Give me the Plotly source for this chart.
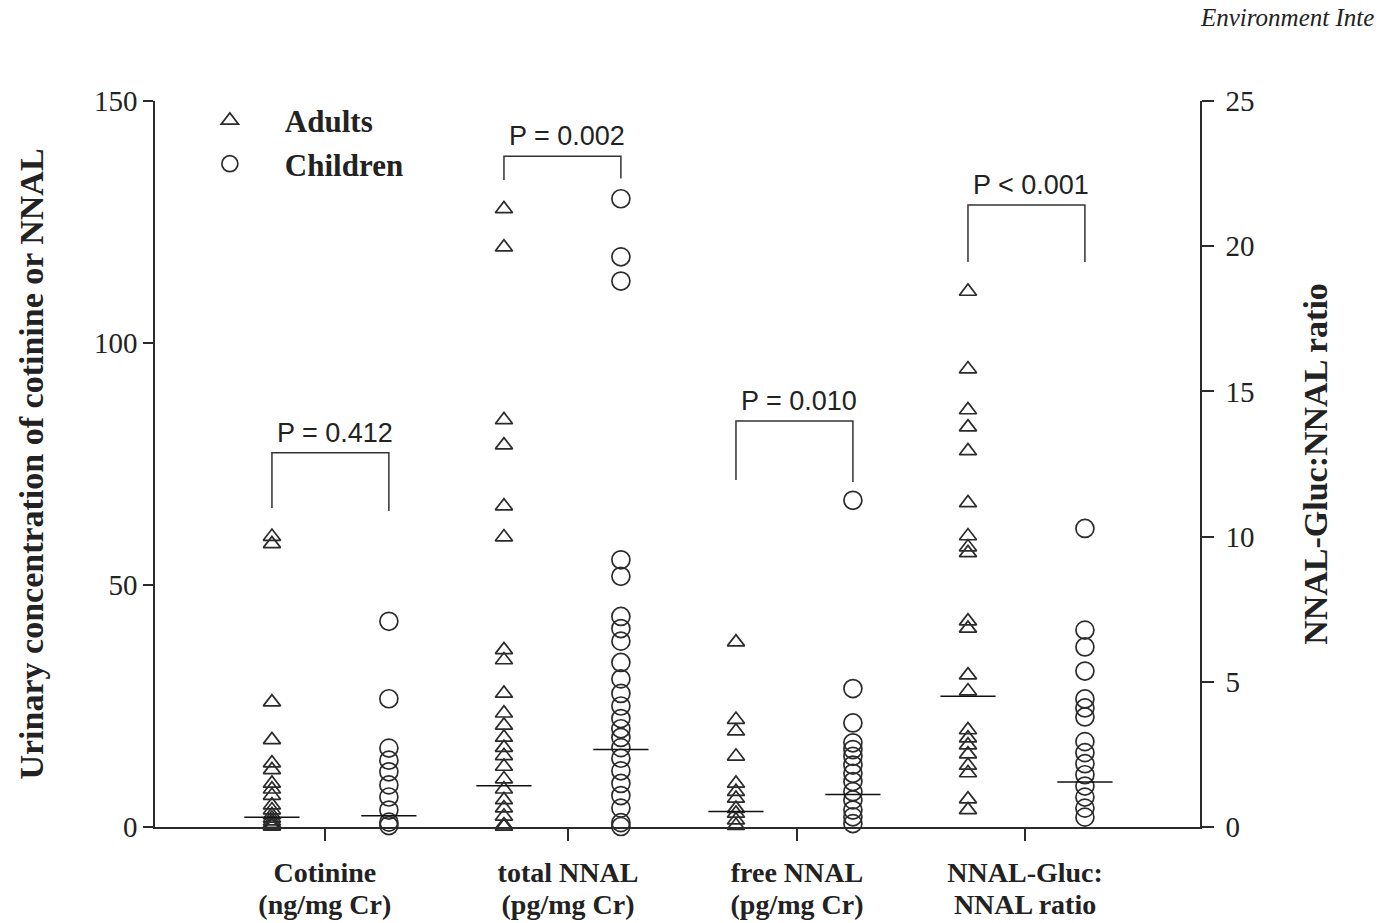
import plotly.graph_objects as go

# ---- data ----
categories_line1 = ["Cotinine", "total NNAL", "free NNAL", "NNAL-Gluc:"]
categories_line2 = ["(ng/mg Cr)", "(pg/mg Cr)", "(pg/mg Cr)", "NNAL ratio"]

cot_adults = [60, 58.5, 25.8, 18, 13.2, 11.8, 9, 7.8, 6.5, 4.5, 3.5, 2.5, 1.8, 1.2, 0.7, 0.3, 0.1]
cot_children = [42.5, 26.5, 16.3, 13.8, 11.4, 8.7, 6.2, 3.5, 1.0, 0.3]
total_adults = [127.7, 119.8, 84.1, 78.9, 66.3, 59.9, 36.6, 34.5, 27.6, 23.5, 21, 18.5, 16.4,
                14.7, 12.5, 9.9, 7.8, 5.6, 3.9, 2.2, 0.4, 0.1]
total_children = [129.8, 117.8, 112.8, 55.2, 51.8, 43.5, 41, 38.4, 34, 30.6, 27.6, 25, 22.4,
                  20.3, 18.5, 16.4, 14.2, 11.6, 9, 6.5, 3.9, 0.9, 0.1]
free_adults = [38.2, 22.2, 19.8, 14.6, 9, 7.3, 5.9, 3.8, 2.8, 1.4, 0.3]
free_children = [67.5, 28.6, 21.5, 17.4, 16, 14.6, 12.8, 11.1, 9.4, 7.3, 5.6, 3.5, 2.1, 0.7]
ratio_adults = [18.44, 15.77, 14.36, 13.77, 12.95, 11.16, 10.02, 9.64, 9.44, 7.09, 6.84, 5.23,
                4.68, 3.34, 3.06, 2.82, 2.51, 2.12, 1.86, 0.96, 0.59]
ratio_children = [10.28, 6.78, 6.2, 5.37, 4.41, 4.1, 3.79, 2.94, 2.56, 2.18, 1.8, 1.41, 1.03, 0.65, 0.34]

medians_adults = [2.0, 8.5, 3.2, 4.5]        # last one in ratio units
medians_children = [2.3, 16.0, 6.7, 1.55]

p_labels = ["P = 0.412", "P = 0.002", "P = 0.010", "P < 0.001"]
bracket_top = [77.3, 138.6, 83.9, 21.42]      # last one in ratio units
bracket_leg_adults = [65.9, 133.7, 71.7, 19.46]
bracket_leg_children = [65.3, 134.0, 71.3, 19.46]

left_ticks = [0, 50, 100, 150]
right_ticks = [0, 5, 10, 15, 20, 25]

# ---- layout constants ----
group_pos = [0, 1, 2, 3]
tick_pos = [-0.024, 1.024, 2.011, 2.994]      # category tick marks (slightly off-centre, as in the source)
OFF_A, OFF_C = -0.252, 0.252
MED_HW = 0.119
INK = "#2b2b2b"
SERIF = "Liberation Serif"
X_RANGE = [-0.756, 3.748]

adult_sets = [cot_adults, total_adults, free_adults, ratio_adults]
child_sets = [cot_children, total_children, free_children, ratio_children]

fig = go.Figure()

tri = dict(symbol="triangle-up-open", size=15, color=INK, line=dict(color=INK, width=1.7))
cir = dict(symbol="circle-open", size=18, color=INK, line=dict(color=INK, width=1.7))

for i, g in enumerate(group_pos):
    ya = "y2" if i == 3 else "y"
    fig.add_trace(go.Scatter(x=[g + OFF_A] * len(adult_sets[i]), y=adult_sets[i], mode="markers",
                             marker=tri, name="Adults", showlegend=(i == 0), legendgroup="a",
                             yaxis=ya, cliponaxis=False))
    fig.add_trace(go.Scatter(x=[g + OFF_C] * len(child_sets[i]), y=child_sets[i], mode="markers",
                             marker=cir, name="Children", showlegend=(i == 0), legendgroup="c",
                             yaxis=ya, cliponaxis=False))
    # median lines
    mx, my = [], []
    for off, med in ((OFF_A, medians_adults[i]), (OFF_C, medians_children[i])):
        mx += [g + off - MED_HW, g + off + MED_HW, None]
        my += [med, med, None]
    fig.add_trace(go.Scatter(x=mx, y=my, mode="lines", line=dict(color="#111", width=1.5),
                             showlegend=False, hoverinfo="skip", yaxis=ya, cliponaxis=False))
    # significance bracket
    fig.add_trace(go.Scatter(x=[g + OFF_A, g + OFF_A, g + OFF_C, g + OFF_C],
                             y=[bracket_leg_adults[i], bracket_top[i], bracket_top[i], bracket_leg_children[i]],
                             mode="lines", line=dict(color="#333", width=1.5),
                             showlegend=False, hoverinfo="skip", yaxis=ya, cliponaxis=False))
    fig.add_annotation(x=g + 0.02, y=bracket_top[i], yref=ya, text=p_labels[i],
                       showarrow=False, yanchor="bottom", yshift=3,
                       font=dict(family="Liberation Sans", size=27, color="#222"))

# empty trace so the second-line category axis is drawn
fig.add_trace(go.Scatter(x=[None], y=[None], xaxis="x2", showlegend=False, hoverinfo="skip"))

# plot area on screen: x 155..1200, y 101..827 (page body adds an 8px offset)
PLOT_L, PLOT_W, PLOT_T, PLOT_H = 155, 1045, 101, 726
fig.add_annotation(xref="paper", yref="paper", text="<i>Environment Inte</i>", showarrow=False,
                   x=(1376 - PLOT_L) / PLOT_W, xanchor="right", y=1 + (PLOT_T - 18) / PLOT_H,
                   yanchor="middle", font=dict(family=SERIF, size=25, color="#222"))

axis_font = dict(family=SERIF, size=28, color="#222", weight="bold")
title_font = dict(family=SERIF, size=34, color="#222", weight="bold")
num_font = dict(family=SERIF, size=29, color="#222")

fig.update_layout(
    width=1386, height=915,
    margin=dict(l=147, r=194, t=93, b=96, autoexpand=False),
    paper_bgcolor="white", plot_bgcolor="white",
    showlegend=True,
    legend=dict(x=0.019, y=1.01, xanchor="left", yanchor="top", bgcolor="rgba(0,0,0,0)",
                font=dict(family=SERIF, size=31, color="#222", weight="bold"),
                itemwidth=100, tracegroupgap=0),
    xaxis=dict(range=X_RANGE, tickvals=tick_pos, ticktext=categories_line1, automargin=False,
               showline=True, linecolor=INK, linewidth=1.5, ticks="outside", ticklen=12,
               tickcolor=INK, tickwidth=1.5, showgrid=False, zeroline=False,
               tickfont=axis_font, ticklabelstandoff=8),
    xaxis2=dict(range=X_RANGE, tickvals=tick_pos, ticktext=categories_line2, automargin=False,
                overlaying="x", side="bottom", anchor="y",
                showline=False, ticks="outside", ticklen=12, tickcolor="rgba(0,0,0,0)",
                showgrid=False, zeroline=False, tickfont=axis_font, ticklabelstandoff=40),
    yaxis=dict(range=[0, 150], tickvals=left_ticks, showline=True, linecolor=INK, linewidth=1.5,
               ticks="outside", ticklen=10, tickcolor=INK, tickwidth=1.5, showgrid=False,
               zeroline=False, tickfont=num_font, automargin=False,
               title=dict(text="Urinary concentration of cotinine or NNAL", font=title_font,
                          standoff=40)),
    yaxis2=dict(range=[0, 25], tickvals=right_ticks, overlaying="y", side="right",
                showline=True, linecolor=INK, linewidth=1.5, ticks="outside", ticklen=12,
                tickcolor=INK, tickwidth=1.5, showgrid=False, zeroline=False,
                tickfont=num_font, ticklabelstandoff=6, automargin=False,
                title=dict(text="NNAL-Gluc:NNAL ratio", font=title_font, standoff=50)),
)

fig.write_html("out.html")
